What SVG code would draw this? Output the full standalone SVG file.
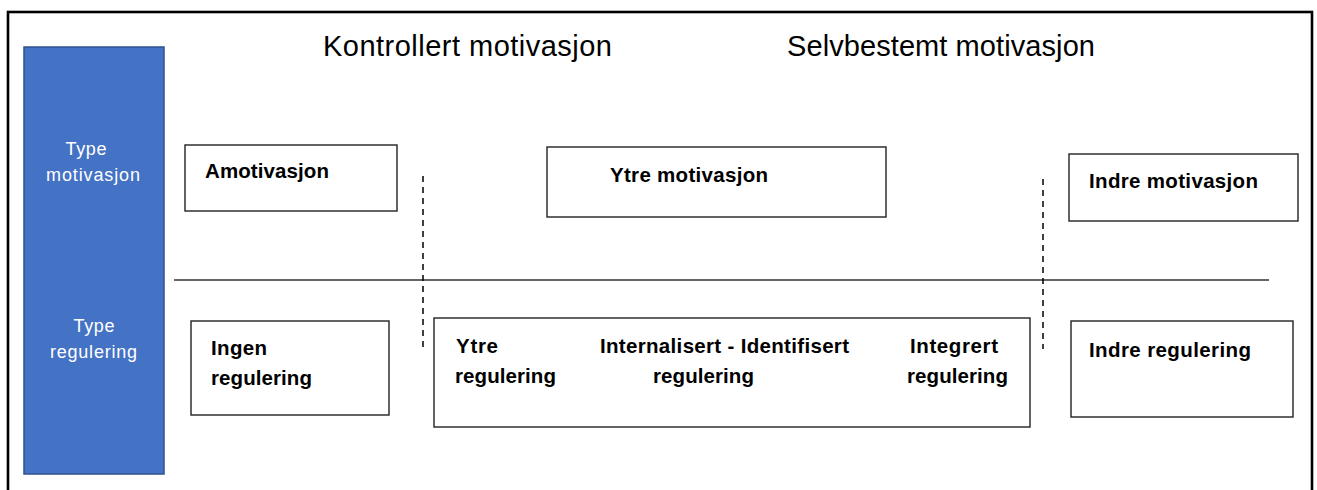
<svg xmlns="http://www.w3.org/2000/svg" width="1317" height="490" viewBox="0 0 1317 490">
  <style>
    .frame { fill: none; stroke: #000; stroke-width: 2.6; }
    .side { fill: #4472C4; stroke: #2F528F; stroke-width: 1.5; }
    .box { fill: #fff; stroke: #222; stroke-width: 1.4; }
    .hdr { font-family: "Liberation Sans", Arial, sans-serif; font-size: 29px; fill: #000; }
    .side-t { font-family: "Liberation Sans", Arial, sans-serif; font-size: 18px; fill: #fff; text-anchor: middle; }
    .lbl { font-family: "Liberation Sans", Arial, sans-serif; font-size: 20.5px; font-weight: bold; fill: #000; }
    .dash { stroke: #000; stroke-width: 1.5; stroke-dasharray: 6 5; fill: none; }
    .rule { stroke: #333; stroke-width: 1.3; fill: none; }
  </style>
  <rect x="0" y="0" width="1317" height="490" fill="#fff"/>
  <rect class="frame" x="8" y="12" width="1304" height="500"/>

  <g id="side-bar">
    <rect class="side" x="24" y="47" width="140" height="427"/>
    <text class="side-t" x="86" y="155" textLength="41">Type</text>
    <text class="side-t" x="93" y="181" textLength="94">motivasjon</text>
    <text class="side-t" x="94" y="332" textLength="41">Type</text>
    <text class="side-t" x="93.5" y="358" textLength="87">regulering</text>
  </g>

  <g id="headers">
    <text class="hdr" x="323" y="56" textLength="289">Kontrollert motivasjon</text>
    <text class="hdr" x="787" y="56" textLength="308">Selvbestemt motivasjon</text>
  </g>

  <g id="connectors">
    <line class="rule" x1="174" y1="280" x2="1269" y2="280"/>
    <line class="dash" x1="423" y1="176" x2="423" y2="350"/>
    <line class="dash" x1="1043" y1="179" x2="1043" y2="349"/>
  </g>

  <g id="amotivasjon">
    <rect class="box" x="185" y="145" width="212" height="66"/>
    <text class="lbl" x="205" y="178" textLength="124">Amotivasjon</text>
  </g>

  <g id="ytre-motivasjon">
    <rect class="box" x="547" y="147" width="339" height="70"/>
    <text class="lbl" x="610" y="182" textLength="158">Ytre motivasjon</text>
  </g>

  <g id="indre-motivasjon">
    <rect class="box" x="1069" y="154" width="229" height="67"/>
    <text class="lbl" x="1089" y="188" textLength="169">Indre motivasjon</text>
  </g>

  <g id="ingen-regulering">
    <rect class="box" x="191" y="321" width="198" height="94"/>
    <text class="lbl" x="211" y="355" textLength="56">Ingen</text>
    <text class="lbl" x="211" y="385" textLength="101">regulering</text>
  </g>

  <g id="ytre-regulering">
    <rect class="box" x="434" y="318" width="596" height="109"/>
    <text class="lbl" x="456" y="353" textLength="42">Ytre</text>
    <text class="lbl" x="455" y="383" textLength="101">regulering</text>
    <text class="lbl" x="600" y="353" textLength="249">Internalisert - Identifisert</text>
    <text class="lbl" x="653" y="383" textLength="101">regulering</text>
    <text class="lbl" x="910" y="353" textLength="88">Integrert</text>
    <text class="lbl" x="907" y="383" textLength="101">regulering</text>
  </g>

  <g id="indre-regulering">
    <rect class="box" x="1071" y="321" width="222" height="96"/>
    <text class="lbl" x="1089" y="357" textLength="162">Indre regulering</text>
  </g>
</svg>
